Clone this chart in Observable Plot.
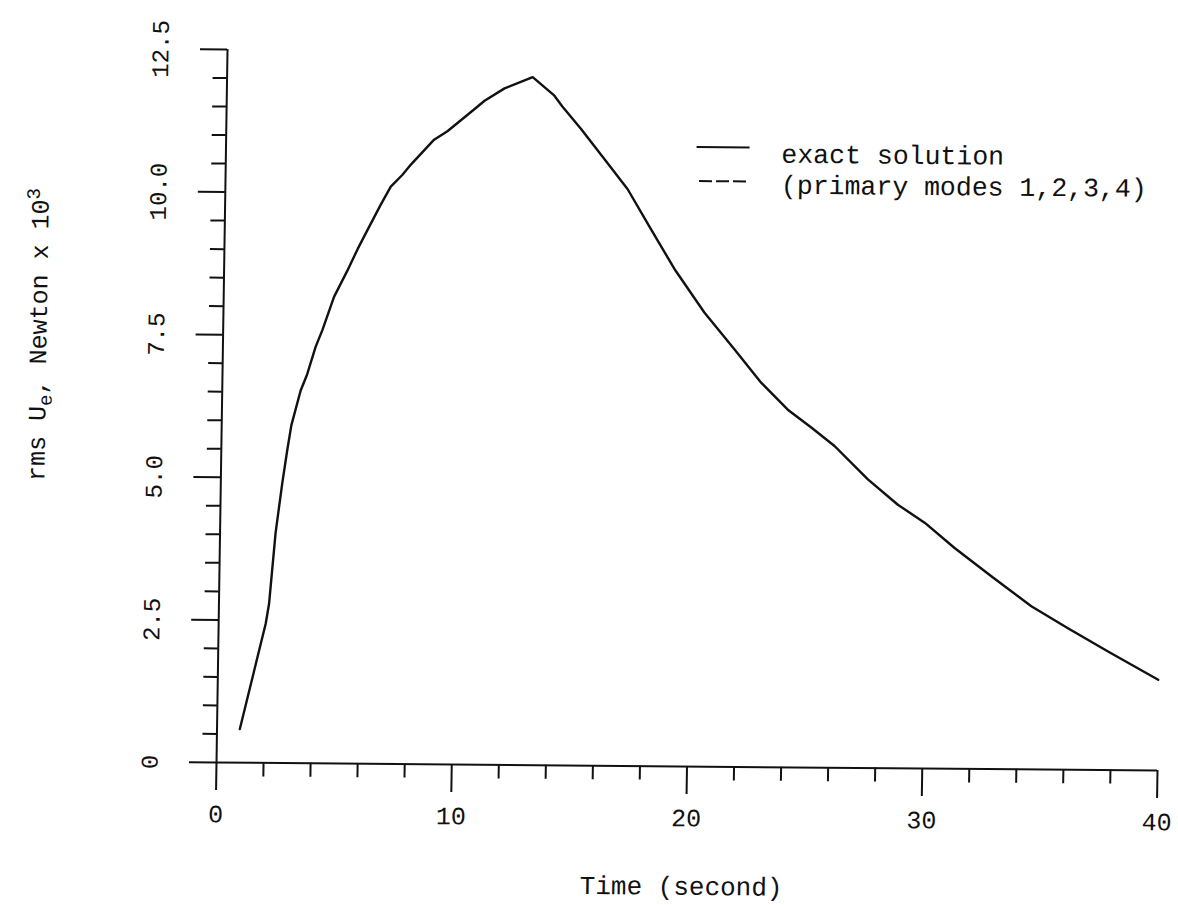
<!DOCTYPE html>
<html>
<head>
<meta charset="utf-8">
<script src="https://cdn.jsdelivr.net/npm/d3@7"></script>
<script src="https://cdn.jsdelivr.net/npm/@observablehq/plot@0.6"></script>
<style>
  html, body { margin: 0; padding: 0; background: #fff; }
  #chart svg { display: block; transform-origin: 216px 762px; transform: matrix(1, 0.0085, -0.01545, 1, 0, 0); }
</style>
</head>
<body>
<div id="chart"></div>
<script>
// ---- data ----
const timeSec = [0.97, 2.0, 2.13, 2.36, 2.61, 2.8, 2.96, 3.33, 3.6, 3.94, 4.22, 4.69, 5.25, 5.66, 6.06, 6.61, 7.03, 7.52, 7.87, 8.84, 9.4, 10.53, 10.96, 11.8, 12.99, 13.9, 14.27, 15.08, 16.08, 17.1, 18.12, 19.14, 20.44, 21.74, 22.9, 24.05, 25.06, 26.06, 27.5, 28.79, 29.94, 31.23, 32.81, 34.53, 36.1, 37.82, 39.97];
const rmsUe   = [0.59, 2.44, 2.79, 4.03, 4.9, 5.48, 5.92, 6.53, 6.82, 7.3, 7.6, 8.18, 8.65, 9.02, 9.35, 9.8, 10.12, 10.33, 10.51, 10.95, 11.1, 11.49, 11.64, 11.86, 12.06, 11.75, 11.55, 11.16, 10.64, 10.11, 9.41, 8.72, 7.96, 7.32, 6.74, 6.27, 5.96, 5.64, 5.06, 4.62, 4.31, 3.87, 3.38, 2.86, 2.48, 2.08, 1.59];

const xMajorTicks = [0, 10, 20, 30, 40];
const xMinorTicks = [2, 4, 6, 8, 12, 14, 16, 18, 22, 24, 26, 28, 32, 34, 36, 38];
const yMajorTicks = [0, 2.5, 5, 7.5, 10, 12.5];
const yMajorLabels = ["0", "2.5", "5.0", "7.5", "10.0", "12.5"];
const yMinorTicks = [0.5, 1, 1.5, 2, 3, 3.5, 4, 4.5, 5.5, 6, 6.5, 7, 8, 8.5, 9, 9.5, 10.5, 11, 11.5, 12];
const legendLabels = ["exact solution", "(primary modes 1,2,3,4)"];
const xTitle = "Time (second)";

const data = timeSec.map((t, i) => ({t, v: rmsUe[i]}));
const font = "'Liberation Mono', 'DejaVu Sans Mono', monospace";
const ink = "#111";

const plot = Plot.plot({
  width: 1178,
  height: 905,
  marginLeft: 216,
  marginRight: 21,
  marginTop: 49,
  marginBottom: 143,
  style: {fontFamily: font, background: "#fff", color: ink},
  x: {domain: [0, 40]},
  y: {domain: [0, 12.5]},
  marks: [
    Plot.axisX(xMinorTicks, {tickSize: 14, strokeWidth: 2, tickFormat: () => "", label: null}),
    Plot.axisX(xMajorTicks, {tickSize: 28, strokeWidth: 2, tickPadding: 14, fontSize: 25, tickFormat: d => String(d), label: null}),
    Plot.axisY(yMinorTicks, {tickSize: 14, strokeWidth: 2, tickFormat: () => "", label: null}),
    Plot.axisY(yMajorTicks, {tickSize: 27, strokeWidth: 2, tickPadding: 32, tickRotate: -90, fontSize: 24, tickFormat: d => yMajorLabels[yMajorTicks.indexOf(d)], label: null}),
    Plot.ruleX([0], {stroke: ink, strokeWidth: 2}),
    Plot.ruleY([0], {stroke: ink, strokeWidth: 2}),
    Plot.line(data, {x: "t", y: "v", stroke: ink, strokeWidth: 2.4}),
    Plot.text([xTitle], {frameAnchor: "bottom", dy: 120, dx: -4, fontSize: 26, lineAnchor: "middle", fill: ink})
  ]
});

const svg = d3.select(plot);

// y-axis title with subscript and superscript
const yt = svg.append("text")
  .attr("transform", "translate(40,336) rotate(-90)")
  .attr("text-anchor", "middle")
  .attr("font-family", font)
  .attr("font-size", 25)
  .attr("fill", ink);
yt.append("tspan").text("rms U");
yt.append("tspan").attr("baseline-shift", "-30%").attr("font-size", 19).text("e");
yt.append("tspan").text(", Newton x 10");
yt.append("tspan").attr("baseline-shift", "45%").attr("font-size", 19).text("3");

// legend
const lg = svg.append("g")
  .attr("font-family", font)
  .attr("font-size", 26.5)
  .attr("text-anchor", "start")
  .attr("fill", ink);
lg.append("line").attr("x1", 687).attr("x2", 740).attr("y1", 143).attr("y2", 143)
  .attr("stroke", ink).attr("stroke-width", 2);
lg.append("line").attr("x1", 690).attr("x2", 737).attr("y1", 177).attr("y2", 177)
  .attr("stroke", ink).attr("stroke-width", 2).attr("stroke-dasharray", "13,4");
lg.append("text").attr("x", 772).attr("y", 158).attr("text-anchor", "start").text(legendLabels[0]);
lg.append("text").attr("x", 772).attr("y", 189).attr("text-anchor", "start").text(legendLabels[1]);

document.getElementById("chart").appendChild(plot);
</script>
</body>
</html>
